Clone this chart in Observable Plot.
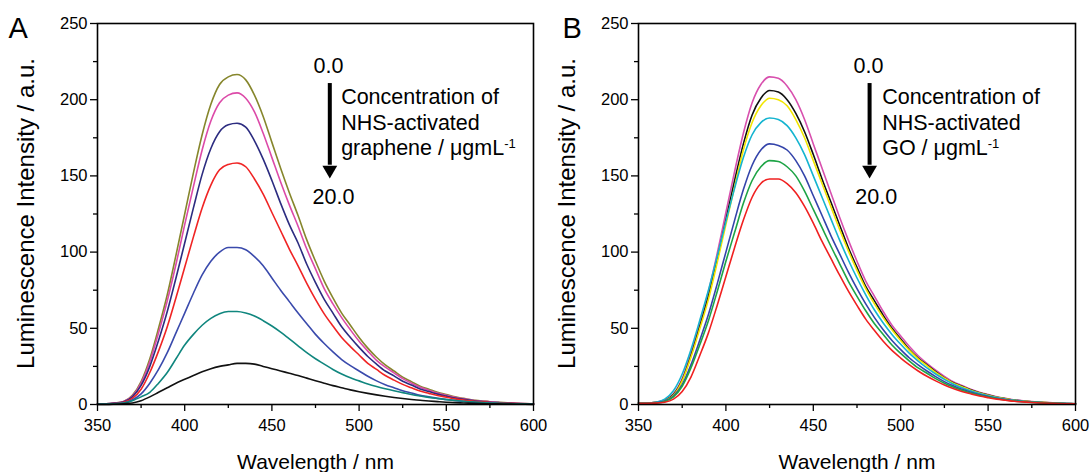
<!DOCTYPE html>
<html><head><meta charset="utf-8">
<script src="https://cdn.jsdelivr.net/npm/d3@7"></script>
<script src="https://cdn.jsdelivr.net/npm/@observablehq/plot@0.6"></script>
<style>
body{margin:0;background:#fff;}
#wrap{display:flex;width:1090px;height:472px;font-family:"Liberation Sans",Arial,sans-serif;background:#fff;}
#wrap svg{display:block;}
</style></head><body><div id="wrap"></div>
<script>
const wavelength = [350,355,360,365,370,375,380,385,390,395,400,405,410,415,420,425,430,435,440,445,450,455,460,465,470,475,480,485,490,495,500,505,510,515,520,525,530,535,540,545,550,555,560,565,570,575,580,585,590,595,600];

// Panel A (NHS-activated graphene)
const aOlive   = [0.5,0.5,1,2,6,15,30,50,72,98,125,152,177,197,210,215,216.5,213,203,189,172,155,139,124,108,94,81,70,60,52,44,37,31,26,22,18,15,12,10,8,6.5,5,4,3,2.4,1.8,1.4,1.1,0.8,0.6,0.5];
const aMagenta = [0.5,0.5,1,2,5.5,14,28,47,68,92,118,143,167,186,198,203,204.5,201,192,178,162,146,131,117,102,89,76,66,57,49,41.5,35,29,24.5,20.8,17,14,11.3,9.4,7.5,6.1,4.7,3.8,2.8,2.3,1.7,1.3,1,0.8,0.6,0.5];
const aNavy    = [0.5,0.5,0.9,1.8,5,12.5,25,42,61,83,106,129,151,168,179,183.5,184.5,182,173,161,147,132,118,106,92,80,69,60,51,44,37.5,31.5,26.5,22,18.8,15.3,12.8,10.2,8.5,6.8,5.5,4.3,3.4,2.6,2,1.5,1.2,0.9,0.7,0.5,0.4];
const aRed     = [0.4,0.4,0.7,1.5,4,10,21,35,51,70,90,110,129,144,154,157.5,158.5,156,148,138,126,114,102,91,79.5,69,59.5,51.5,44,38,32.5,27,23,19,16,13.2,11,8.8,7.3,5.9,4.8,3.7,2.9,2.2,1.8,1.3,1,0.8,0.6,0.5,0.4];
const aBlue    = [0.3,0.3,0.5,1,3,7,14,23,34,47,60,73,85,94,100,103,103,101.5,97,91,83,75,67.5,60,53,46,40,34.5,29.5,25.5,22,18.5,15.5,13,11,9,7.5,6,5,4,3.3,2.6,2,1.5,1.2,0.9,0.7,0.5,0.4,0.3,0.3];
const aTeal    = [0.3,0.3,0.5,1,2.5,5,8,14,21,30,39,46,52,56.5,59.5,61,61,60,58,55,51.5,47.5,43,38.5,34,30,26.5,23,20,17.5,15.5,13.5,11.8,10.3,9,7.8,6.6,5.6,4.7,3.9,3.2,2.6,2.1,1.7,1.3,1,0.8,0.6,0.5,0.4,0.3];
const aBlack   = [0,0,0.2,0.5,1,2.5,5,8,11,14,16.5,19,21.5,23.5,25,26,27,27,26.5,25,23.5,22,20.5,19,17.3,15.6,14,12.4,11,9.6,8.4,7.3,6.3,5.4,4.6,3.9,3.3,2.8,2.3,1.9,1.5,1.2,1,0.8,0.6,0.5,0.4,0.3,0.2,0.2,0.1];

// Panel B (NHS-activated GO)
const bMagenta = [1,1,1.5,3,7,17,34,53,74,99,126,153,178,198,210,215,214,209,200,187,171,155,139,123,108,94,81,71,61,52,45,38,32,27,22.5,18.5,15,12.5,10,8,6.5,5,4,3,2.4,1.9,1.5,1.2,0.9,0.7,0.5];
const bBlack   = [1,1,1.4,2.8,6.5,16,32,51,71,95,121,147,171,190,201,206,205,200,191,179,164,148,133,118,103,90,77.5,68,58.5,50,43,36,30.5,26,21.5,17.5,14.3,12,9.6,7.7,6.2,4.8,3.8,2.9,2.3,1.8,1.4,1.1,0.9,0.7,0.5];
const bYellow  = [1,1,1.3,2.6,6,15.5,31,49.5,69,93,118,143,167,185,196,201,200,196,187,175,160,145,130,115,101,88,76,66,57,49,42,35.5,30,25.5,21,17.3,14,11.7,9.4,7.5,6,4.7,3.7,2.8,2.2,1.7,1.4,1.1,0.8,0.6,0.5];
const bCyan    = [1,1,1.5,3.5,9,20,36,55,75,97,120,142,162,177,185,188,187,183,175,164,150,136,122,108,95,83,72,62,53.5,46,39.5,33.5,28.5,24,20,16.5,13.5,11,9,7.2,5.8,4.5,3.5,2.7,2.1,1.6,1.3,1,0.8,0.6,0.5];
const bBlue    = [0.8,0.8,1.1,2.3,5.5,13,26,42,59,79,100,121,141,157,167,171,170,167,160,150,137,124,111,99,87,76,66,57,49,42,36,30.5,26,22,18.3,15,12.3,10,8.2,6.6,5.3,4.1,3.2,2.5,1.9,1.5,1.2,0.9,0.7,0.6,0.4];
const bGreen   = [0.8,0.8,1,2,5,12,24,39,55,74,94,113,132,147,156,160,159.5,156,150,140,128,116,104,92.5,81,71,61.5,53,46,39,33.5,28.5,24,20.5,17,14,11.5,9.3,7.6,6.1,4.9,3.8,3,2.3,1.8,1.4,1.1,0.9,0.7,0.5,0.4];
const bRed     = [0.8,0.8,0.9,1.5,3.5,8.5,18,32,47,65,84,103,121,136,145,148,148,145,139,130,119,107,96,85,74.5,65,56,48.5,41.5,35.5,30.5,26,22,18.5,15.5,12.8,10.5,8.5,7,5.6,4.5,3.5,2.8,2.1,1.7,1.3,1,0.8,0.6,0.5,0.4];

const xTicks = [350,400,450,500,550,600];
const xMinor = [375,425,475,525,575];
const yTicks = [0,50,100,150,200,250];
const yMinor = [25,75,125,175,225];

const xTitle = "Wavelength / nm";
const yTitle = "Luminescence Intensity / a.u.";

const seriesA = [
  {name:"A0", color:"#86862c", values:aOlive},
  {name:"A1", color:"#dc4aa8", values:aMagenta},
  {name:"A2", color:"#2c2c80", values:aNavy},
  {name:"A3", color:"#f02424", values:aRed},
  {name:"A4", color:"#3a4aac", values:aBlue},
  {name:"A5", color:"#10867e", values:aTeal},
  {name:"A6", color:"#111111", values:aBlack}
];
const seriesB = [
  {name:"B0", color:"#d850ae", values:bMagenta},
  {name:"B1", color:"#111111", values:bBlack},
  {name:"B2", color:"#f2e600", values:bYellow},
  {name:"B3", color:"#14b4d0", values:bCyan},
  {name:"B4", color:"#3444aa", values:bBlue},
  {name:"B5", color:"#1ea446", values:bGreen},
  {name:"B6", color:"#f02020", values:bRed}
];

const annA = [
  {nm:473.9, v:217.2, label:"0.0"},
  {nm:489.7, v:197.5, label:"Concentration of"},
  {nm:489.7, v:179.8, label:"NHS-activated"},
  {nm:489.7, v:163.4, label:"graphene / μgmL"},
  {nm:473.3, v:131.6, label:"20.0"}
];
const annB = [
  {nm:473.0, v:217.2, label:"0.0"},
  {nm:489.4, v:197.5, label:"Concentration of"},
  {nm:489.4, v:179.8, label:"NHS-activated"},
  {nm:489.4, v:163.4, label:"GO / μgmL"},
  {nm:474.0, v:131.6, label:"20.0"}
];
const arrowA = {nm:483.2, top:210.6, bottom:157, head:153.9};
const arrowB = {nm:482.2, top:210.6, bottom:157, head:153.9};

function panel(series, ann, arrow, letter, marginLeft, marginRight, letterDx) {
  const rows = [];
  for (const s of series) wavelength.forEach((w, i) => rows.push({series:s.name, nm:w, v:s.values[i]}));
  const svg = Plot.plot({
    width:545, height:472, marginLeft, marginRight, marginTop:23, marginBottom:68,
    style:{fontFamily:"Liberation Sans, Arial, sans-serif", color:"black", background:"none", overflow:"visible"},
    x:{domain:[350,600]},
    y:{domain:[0,250]},
    color:{domain:series.map(s=>s.name), range:series.map(s=>s.color)},
    marks:[
      Plot.axisX(xTicks, {tickSize:7, tickPadding:8, fontSize:16.5, label:null, strokeWidth:1.3}),
      Plot.axisX(xMinor, {tickSize:4, tickFormat:()=>"", label:null, strokeWidth:1.3}),
      Plot.axisY(yTicks, {tickSize:7, tickPadding:3, fontSize:16.5, label:null, strokeWidth:1.3}),
      Plot.axisY(yMinor, {tickSize:4, tickFormat:()=>"", label:null, strokeWidth:1.3}),
      Plot.line(rows, {x:"nm", y:"v", z:"series", stroke:"series", strokeWidth:1.6, curve:"monotone-x"}),
      Plot.frame({stroke:"black", strokeWidth:1.6}),
      Plot.text([xTitle], {text:d=>d, frameAnchor:"bottom", dy:64, lineAnchor:"bottom", fontSize:21}),
      Plot.text([letter], {text:d=>d, frameAnchor:"top-left", dx:letterDx, dy:14, lineAnchor:"bottom", textAnchor:"start", fontSize:29}),
      Plot.text(ann, {x:"nm", y:"v", text:"label", textAnchor:"start", lineAnchor:"bottom", fontSize:21.5}),
      Plot.ruleX([arrow], {x:"nm", y1:"top", y2:"bottom", stroke:"black", strokeWidth:4}),
      Plot.dot([arrow], {x:"nm", y:"head", symbol:"triangle", rotate:180, r:5.5, fill:"black", stroke:"none"})
    ]
  });
  const root = d3.select(svg);
  root.selectAll("text").filter(function(){ return this.textContent.endsWith("μgmL"); })
    .append("tspan").attr("dy","-0.55em").attr("font-size","13px").text("-1");
  // y-axis title, rotated, centred on the frame
  const yc = (23 + (472 - 68)) / 2;
  root.append("text")
    .attr("transform", `translate(${marginLeft - 63},${yc}) rotate(-90)`)
    .attr("text-anchor", "middle")
    .attr("font-size", 24)
    .attr("fill", "black")
    .text(yTitle);
  return svg;
}

const wrap = document.getElementById("wrap");
const svgA = panel(seriesA, annA, arrowA, "A", 97, 12, -89);
const svgB = panel(seriesB, annB, arrowB, "B", 93, 15, -76);
svgA.style.position = "relative";
svgA.style.zIndex = "2";
wrap.appendChild(svgA);
wrap.appendChild(svgB);
</script>
</body></html>
